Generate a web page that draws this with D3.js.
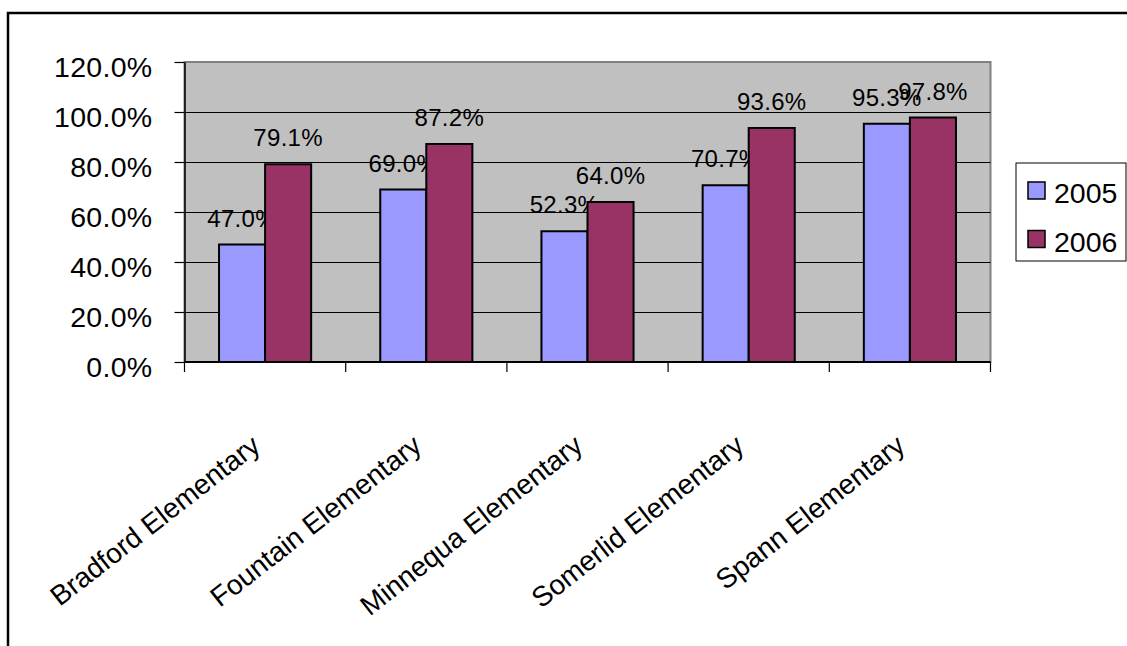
<!DOCTYPE html>
<html>
<head>
<meta charset="utf-8">
<script src="https://cdn.jsdelivr.net/npm/d3@7"></script>
<style>
    body { margin: 0; background: #ffffff; }
    svg { display: block; font-family: "Liberation Sans", Arial, sans-serif; }
</style>
</head>
<body>
<div id="chart"></div>
<script>
// chart data
var schools = ["Bradford Elementary", "Fountain Elementary", "Minnequa Elementary", "Somerlid Elementary", "Spann Elementary"];
var years = ["2005", "2006"];
var values2005 = [0.470, 0.690, 0.523, 0.707, 0.953];
var values2006 = [0.791, 0.872, 0.640, 0.936, 0.978];
var yTicks = [0, 0.2, 0.4, 0.6, 0.8, 1.0, 1.2];

var seriesValues = [values2005, values2006];
var colour = d3.scaleOrdinal().domain(years).range(["#9999ff", "#993366"]);

var width = 1127;
var height = 646;

// plot area, in page pixels
var plot = { left: 184.5, top: 62, right: 990.5, bottom: 362 };

var svg = d3.select("#chart").append("svg")
    .attr("width", width)
    .attr("height", height);

// outer chart frame (only the top and left edges fall inside the picture)
svg.append("path")
    .attr("d", "M8," + (height + 5) + "V13H" + (width + 5))
    .attr("fill", "none")
    .attr("stroke", "#000")
    .attr("stroke-width", 2.5);

var xScale = d3.scaleBand()
    .domain(schools)
    .range([plot.left, plot.right])
    .paddingInner(0)
    .paddingOuter(0);

var yScale = d3.scaleLinear()
    .domain([0, 1.2])
    .range([plot.bottom, plot.top]);

// excel style gap width of 150%
var barWidth = xScale.bandwidth() / 3.5;
var barOffset = barWidth * 0.75;

// plot background
svg.append("rect")
    .attr("x", plot.left)
    .attr("y", plot.top)
    .attr("width", plot.right - plot.left)
    .attr("height", plot.bottom - plot.top)
    .attr("fill", "#c0c0c0")
    .attr("stroke", "#808080")
    .attr("stroke-width", 2);

// gridlines
svg.append("g")
    .selectAll("line")
    .data(yTicks.slice(1, -1))
    .enter()
    .append("line")
    .attr("x1", plot.left)
    .attr("x2", plot.right)
    .attr("y1", function(d) { return Math.round(yScale(d)) + 0.5; })
    .attr("y2", function(d) { return Math.round(yScale(d)) + 0.5; })
    .attr("stroke", "#000")
    .attr("stroke-width", 1);

// bars
var groups = svg.append("g")
    .selectAll("g")
    .data(years)
    .enter()
    .append("g")
    .attr("fill", function(d) { return colour(d); });

groups.each(function(year, i) {
    d3.select(this).selectAll("rect")
        .data(seriesValues[i])
        .enter()
        .append("rect")
        .attr("x", function(d, j) { return xScale(schools[j]) + barOffset + i * barWidth; })
        .attr("y", function(d) { return yScale(d); })
        .attr("width", barWidth)
        .attr("height", function(d) { return yScale(0) - yScale(d); })
        .attr("stroke", "#000")
        .attr("stroke-width", 2);
});

// data labels
groups.each(function(year, i) {
    d3.select(this).selectAll("text")
        .data(seriesValues[i])
        .enter()
        .append("text")
        .attr("x", function(d, j) { return xScale(schools[j]) + barOffset + (i + 0.5) * barWidth; })
        .attr("y", function(d) { return yScale(d) - 18; })
        .attr("text-anchor", "middle")
        .attr("fill", "#000")
        .attr("font-size", 24)
        .attr("letter-spacing", 0.3)
        .text(function(d) { return d3.format(".1%")(d); });
});

// y axis
var yAxis = d3.axisLeft(yScale)
    .tickValues(yTicks)
    .tickFormat(d3.format(".1%"))
    .tickSize(10)
    .tickSizeOuter(0)
    .tickPadding(22);

var yAxisContainer = svg.append("g")
    .attr("transform", "translate(" + plot.left + ",0)")
    .call(yAxis);

yAxisContainer.select(".domain").attr("stroke", "#000").attr("stroke-width", 1.5);
yAxisContainer.selectAll(".tick line").attr("stroke", "#000").attr("stroke-width", 1.2);
yAxisContainer.selectAll(".tick text")
    .attr("font-size", 28.5)
    .attr("font-family", "Liberation Sans, Arial, sans-serif")
    .attr("letter-spacing", 0.3)
    .attr("fill", "#000")
    .attr("dy", 14);

// x axis line and tick marks at band edges
var xAxisContainer = svg.append("g");

xAxisContainer.append("line")
    .attr("x1", plot.left)
    .attr("x2", plot.right)
    .attr("y1", plot.bottom)
    .attr("y2", plot.bottom)
    .attr("stroke", "#000")
    .attr("stroke-width", 2);

xAxisContainer.selectAll(".xtick")
    .data(schools.concat([null]))
    .enter()
    .append("line")
    .attr("class", "xtick")
    .attr("x1", function(d) { return d === null ? plot.right : xScale(d); })
    .attr("x2", function(d) { return d === null ? plot.right : xScale(d); })
    .attr("y1", plot.bottom)
    .attr("y2", plot.bottom + 10)
    .attr("stroke", "#000")
    .attr("stroke-width", 1.2);

// rotated category labels
xAxisContainer.selectAll(".xlabel")
    .data(schools)
    .enter()
    .append("text")
    .attr("class", "xlabel")
    .attr("text-anchor", "end")
    .attr("font-size", 28)
    .attr("fill", "#000")
    .attr("transform", function(d) {
        return "translate(" + (xScale(d) + xScale.bandwidth() / 2 - 3) + "," + (plot.bottom + 87) + ") rotate(-38)";
    })
    .text(function(d) { return d; });

// legend
var legend = svg.append("g").attr("transform", "translate(1016,163)");

legend.append("rect")
    .attr("width", 110)
    .attr("height", 98)
    .attr("fill", "#fff")
    .attr("stroke", "#000")
    .attr("stroke-width", 1);

var legendItems = legend.selectAll(".item")
    .data(years)
    .enter()
    .append("g")
    .attr("class", "item")
    .attr("transform", function(d, i) { return "translate(12," + (19 + i * 48.5) + ")"; });

legendItems.append("rect")
    .attr("width", 17)
    .attr("height", 17)
    .attr("fill", function(d) { return colour(d); })
    .attr("stroke", "#000")
    .attr("stroke-width", 1.5);

legendItems.append("text")
    .attr("x", 26)
    .attr("y", 21)
    .attr("font-size", 28.5)
    .attr("fill", "#000")
    .text(function(d) { return d; });
</script>
</body>
</html>
